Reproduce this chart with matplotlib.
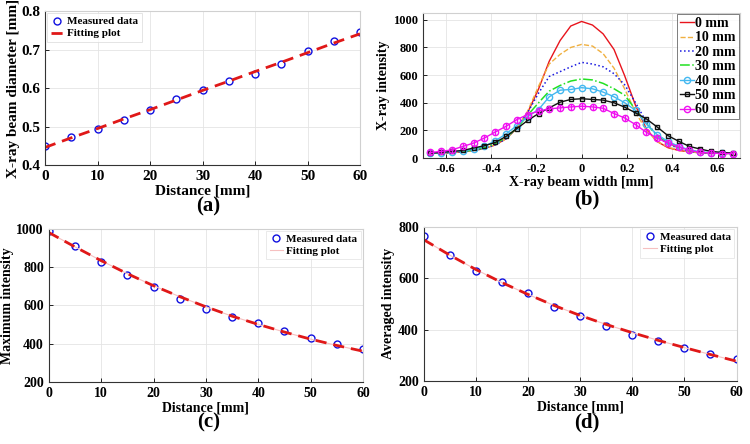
import matplotlib
matplotlib.use("Agg")
import matplotlib.pyplot as plt

plt.rcParams["font.family"] = ["Liberation Serif", "DejaVu Serif"]
plt.rcParams["font.weight"] = "bold"
plt.rcParams["axes.unicode_minus"] = False

# --- (a) beam diameter vs distance ---
dist = [0, 5, 10, 15, 20, 25, 30, 35, 40, 45, 50, 55, 60]
diam = [0.450, 0.472, 0.495, 0.518, 0.543, 0.571, 0.594, 0.619, 0.637, 0.662, 0.696, 0.722, 0.746]
diam_fit = [0.446, 0.471, 0.495, 0.520, 0.544, 0.569, 0.594, 0.618, 0.643, 0.667, 0.692, 0.717, 0.741]

# --- (b) beam profiles ---
width = [-0.667, -0.619, -0.571, -0.524, -0.476, -0.429, -0.381, -0.333, -0.286, -0.238,
         -0.190, -0.143, -0.095, -0.048, 0.0, 0.048, 0.095, 0.143, 0.190, 0.238,
         0.286, 0.333, 0.381, 0.429, 0.476, 0.524, 0.571, 0.619, 0.667]
prof_0 = [35, 37, 40, 45, 55, 70, 95, 140, 215, 330, 500, 700, 850, 955, 988, 962, 898,
          785, 595, 380, 210, 120, 75, 55, 45, 38, 35, 34, 33]
prof_10 = [35, 37, 40, 45, 55, 70, 95, 140, 215, 340, 520, 680, 750, 800, 822, 810, 755,
           650, 500, 330, 200, 120, 80, 55, 45, 38, 35, 34, 33]
prof_20 = [35, 37, 40, 45, 55, 70, 95, 140, 220, 330, 470, 590, 625, 660, 692, 680, 660,
           610, 530, 400, 260, 160, 100, 70, 50, 40, 36, 34, 33]
prof_30 = [35, 38, 42, 48, 58, 75, 105, 150, 215, 310, 400, 484, 525, 557, 572, 565, 540,
           501, 455, 351, 250, 160, 110, 75, 55, 42, 37, 34, 33]
prof_40 = [36, 40, 45, 52, 65, 85, 125, 175, 235, 300, 351, 443, 491, 496, 509, 501, 477,
           443, 400, 345, 245, 170, 120, 85, 60, 45, 38, 35, 33]
prof_50 = [36, 41, 48, 55, 73, 89, 113, 157, 213, 272, 322, 363, 404, 424, 429, 424, 419,
           400, 368, 327, 283, 225, 162, 121, 84, 65, 48, 41, 36]
prof_60 = [41, 48, 60, 84, 109, 145, 189, 230, 278, 315, 339, 356, 363, 370, 375, 370, 360,
           322, 290, 242, 186, 145, 109, 80, 55, 41, 36, 33, 33]

# --- (c) max intensity, (d) averaged intensity ---
max_int = [990, 910, 826, 757, 694, 635, 579, 537, 508, 468, 428, 400, 374]
max_fit = [980, 905, 833, 765, 702, 645, 592, 543, 500, 460, 423, 390, 360]
avg_int = [763, 691, 629, 586, 542, 489, 452, 413, 380, 354, 328, 305, 285]
avg_fit = [750, 690, 634, 583, 537, 494, 455, 420, 388, 358, 330, 303, 277]

fig = plt.figure(figsize=(7.5, 4.44), dpi=100)


def style_axes(ax, tick_size):
    ax.grid(True, color="#e4e4e4", lw=0.6)
    ax.set_axisbelow(True)
    for s in ["top", "right"]:
        ax.spines[s].set_color("#d0d0d0")
    for s in ["left", "bottom"]:
        ax.spines[s].set_color("#333333")
    ax.tick_params(direction="in", length=3, labelsize=tick_size, width=0.6)
    for lab in ax.get_xticklabels() + ax.get_yticklabels():
        lab.set_fontweight("bold")


# (a)
ax = fig.add_axes([0.060, 0.628, 0.420, 0.347])
ax.plot(dist, diam, "o", mfc="none", mec="#1010e0", ms=5, mew=1.0, label="Measured data")
ax.plot(dist, diam_fit, "--", color="#e01818", lw=2.0, dashes=(4, 2.5), label="Fitting plot")
ax.set_xlim(0, 60)
ax.set_ylim(0.4, 0.8)
ax.set_xticks(range(0, 61, 10))
ax.set_yticks([0.4, 0.5, 0.6, 0.7, 0.8])
style_axes(ax, 11)
ax.set_xlabel("Distance [mm]", fontsize=11, fontweight="bold", labelpad=1)
ax.set_ylabel("X-ray beam diameter [mm]", fontsize=11, fontweight="bold", labelpad=1)
leg = ax.legend(loc="upper left", fontsize=8, frameon=True, fancybox=False,
                borderpad=0.3, handlelength=1.2, handletextpad=0.3, labelspacing=0.2,
                borderaxespad=0.2)
leg.get_frame().set_edgecolor("#d8d8d8")
leg.get_frame().set_linewidth(0.6)

# (b)
ax = fig.add_axes([0.564, 0.644, 0.423, 0.327])
ax.plot(width, prof_0, "-", color="#e8141c", lw=1.0, label="0 mm")
ax.plot(width, prof_10, "--", color="#f0b040", lw=1.0, label="10 mm")
ax.plot(width, prof_20, ":", color="#1a1ae0", lw=1.1, label="20 mm")
ax.plot(width, prof_30, "-.", color="#22e022", lw=1.1, label="30 mm")
ax.plot(width, prof_40, "-o", color="#44b8f0", lw=1.0, ms=4.5, mfc="none", mew=1.0,
        label="40 mm")
ax.plot(width, prof_50, "-s", color="#111111", lw=1.0, ms=3.5, mfc="none", mew=1.0,
        label="50 mm")
ax.plot(width, prof_60, "-o", color="#f010f0", lw=1.0, ms=4.5, mfc="none", mew=1.0,
        label="60 mm")
ax.plot(width, prof_60, "|", color="#f010f0", ms=5, mew=1.0)
ax.set_xlim(-0.7, 0.7)
ax.set_ylim(0, 1050)
ax.set_xticks([-0.6, -0.4, -0.2, 0, 0.2, 0.4, 0.6])
ax.set_xticklabels(["-0.6", "-0.4", "-0.2", "0", "0.2", "0.4", "0.6"])
ax.set_yticks(range(0, 1001, 200))
style_axes(ax, 9)
ax.set_xlabel("X-ray beam width [mm]", fontsize=10, fontweight="bold", labelpad=1)
ax.set_ylabel("X-ray intensity", fontsize=10, fontweight="bold", labelpad=2)
leg = ax.legend(loc="upper right", fontsize=10, frameon=True, fancybox=False,
                borderpad=0.2, handlelength=1.0, handletextpad=0.1, labelspacing=0.1,
                borderaxespad=0.1)
leg.get_frame().set_edgecolor("#444444")
leg.get_frame().set_linewidth(0.6)

# (c) and (d)
for rect, meas, fit, lim, ylab in [
        ([0.065, 0.140, 0.419, 0.345], max_int, max_fit, (200, 1000), "Maximum intensity"),
        ([0.565, 0.142, 0.417, 0.347], avg_int, avg_fit, (200, 800), "Averaged intensity")]:
    ax = fig.add_axes(rect)
    ax.plot(dist, meas, "o", mfc="none", mec="#1010e0", ms=5, mew=1.0, label="Measured data")
    ax.plot(dist, fit, "-", color="#f6c0c0", lw=0.8, label="Fitting plot")
    ax.plot(dist, fit, "--", color="#e01818", lw=2.0, dashes=(4, 2.5))
    ax.set_xlim(0, 60)
    ax.set_ylim(*lim)
    ax.set_xticks(range(0, 61, 10))
    ax.set_yticks(range(lim[0], lim[1] + 1, 200))
    style_axes(ax, 10)
    ax.set_xlabel("Distance [mm]", fontsize=10, fontweight="bold", labelpad=1)
    ax.set_ylabel(ylab, fontsize=10, fontweight="bold", labelpad=2)
    leg = ax.legend(loc="upper right", fontsize=8, frameon=True, fancybox=False,
                    borderpad=0.3, handlelength=1.2, handletextpad=0.3, labelspacing=0.2,
                    borderaxespad=0.2)
    leg.get_frame().set_edgecolor("#e0e0e0")
    leg.get_frame().set_linewidth(0.6)

# panel captions
for x, y, t in [(0.278, 0.535, "(a)"), (0.783, 0.55, "(b)"),
                (0.278, 0.048, "(c)"), (0.783, 0.048, "(d)")]:
    fig.text(x, y, t, ha="center", va="center", fontsize=15, fontweight="bold")

fig.savefig("out.png", dpi=100)
